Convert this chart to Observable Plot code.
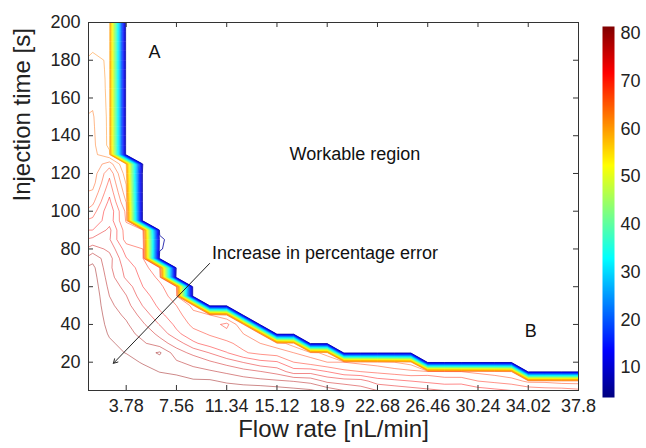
<!DOCTYPE html>
<html>
<head>
<meta charset="utf-8">
<script src="https://cdn.jsdelivr.net/npm/d3@7"></script>
<script src="https://cdn.jsdelivr.net/npm/@observablehq/plot@0.6"></script>
<style>
  html, body { margin: 0; padding: 0; background: #fff; }
  #chart { position: relative; width: 646px; height: 448px; overflow: hidden; background: #fff; }
  #chart svg { position: absolute; top: 0; }
</style>
</head>
<body>
<div id="chart"></div>
<script>
// ---- data ----
const flowRates = [1.26, 2.52, 3.78, 5.04, 6.3, 7.56, 8.82, 10.08, 11.34, 12.6, 13.86, 15.12, 16.38, 17.64, 18.9,
  20.16, 21.42, 22.68, 23.94, 25.2, 26.46, 27.72, 28.98, 30.24, 31.5, 32.76, 34.02, 35.28, 36.54, 37.8];
const injectionTimes = [200, 195, 190, 185, 180, 175, 170, 165, 160, 155, 150, 145, 140, 135, 130, 125, 120, 115, 110, 105,
  100, 95, 90, 85, 80, 75, 70, 65, 60, 55, 50, 45, 40, 35, 30, 25, 20, 15, 10, 5];
// percentage error, one row per injection time (top row = 200 s), one column per flow rate
const percentError = [
  [61.6, 61.5, 4,4,4,4,4, 4,4,4,4,4, 4,4,4,4,4, 4,4,4,4,4, 4,4,4,4,4, 4,4,4],
  [61.6, 61.5, 4,4,4,4,4, 4,4,4,4,4, 4,4,4,4,4, 4,4,4,4,4, 4,4,4,4,4, 4,4,4],
  [61.7, 61.5, 4,4,4,4,4, 4,4,4,4,4, 4,4,4,4,4, 4,4,4,4,4, 4,4,4,4,4, 4,4,4],
  [61.8, 61.5, 4,4,4,4,4, 4,4,4,4,4, 4,4,4,4,4, 4,4,4,4,4, 4,4,4,4,4, 4,4,4],
  [63.0, 61.5, 4,4,4,4,4, 4,4,4,4,4, 4,4,4,4,4, 4,4,4,4,4, 4,4,4,4,4, 4,4,4],
  [63.2, 61.5, 4,4,4,4,4, 4,4,4,4,4, 4,4,4,4,4, 4,4,4,4,4, 4,4,4,4,4, 4,4,4],
  [63.4, 61.5, 4,4,4,4,4, 4,4,4,4,4, 4,4,4,4,4, 4,4,4,4,4, 4,4,4,4,4, 4,4,4],
  [63.5, 61.5, 4,4,4,4,4, 4,4,4,4,4, 4,4,4,4,4, 4,4,4,4,4, 4,4,4,4,4, 4,4,4],
  [63.7, 61.5, 4,4,4,4,4, 4,4,4,4,4, 4,4,4,4,4, 4,4,4,4,4, 4,4,4,4,4, 4,4,4],
  [63.9, 61.5, 4,4,4,4,4, 4,4,4,4,4, 4,4,4,4,4, 4,4,4,4,4, 4,4,4,4,4, 4,4,4],
  [64.2, 61.5, 4,4,4,4,4, 4,4,4,4,4, 4,4,4,4,4, 4,4,4,4,4, 4,4,4,4,4, 4,4,4],
  [64.3, 61.5, 4,4,4,4,4, 4,4,4,4,4, 4,4,4,4,4, 4,4,4,4,4, 4,4,4,4,4, 4,4,4],
  [64.4, 61.5, 4,4,4,4,4, 4,4,4,4,4, 4,4,4,4,4, 4,4,4,4,4, 4,4,4,4,4, 4,4,4],
  [64.5, 61.5, 4, 4, 4,4,4,4,4, 4,4,4,4,4, 4,4,4,4,4, 4,4,4,4,4, 4,4,4,4,4, 4],
  [64.6, 62.5, 4, 5.2, 4,4,4,4,4, 4,4,4,4,4, 4,4,4,4,4, 4,4,4,4,4, 4,4,4,4,4, 4],
  [64.7, 67, 62, 5.5, 4,4,4,4,4, 4,4,4,4,4, 4,4,4,4,4, 4,4,4,4,4, 4,4,4,4,4, 4],
  [64.8, 69.5, 62.8, 4,4,4,4,4, 4,4,4,4,4, 4,4,4,4,4, 4,4,4,4,4, 4,4,4,4,4, 4,4],
  [65.2, 70.5, 63.8, 4,4,4,4,4, 4,4,4,4,4, 4,4,4,4,4, 4,4,4,4,4, 4,4,4,4,4, 4,4],
  [66.3, 71.5, 64.8, 4,4,4,4,4, 4,4,4,4,4, 4,4,4,4,4, 4,4,4,4,4, 4,4,4,4,4, 4,4],
  [67.5, 72.5, 65.9, 4,4,4,4,4, 4,4,4,4,4, 4,4,4,4,4, 4,4,4,4,4, 4,4,4,4,4, 4,4],
  [69.0, 73.5, 67.5, 4,4,4,4,4, 4,4,4,4,4, 4,4,4,4,4, 4,4,4,4,4, 4,4,4,4,4, 4,4],
  [70.5, 73.2, 67.8, 4,4,4,4,4, 4,4,4,4,4, 4,4,4,4,4, 4,4,4,4,4, 4,4,4,4,4, 4,4],
  [72.0, 74.5, 68.9, 68, 5, 4,4,4,4,4, 4,4,4,4,4, 4,4,4,4,4, 4,4,4,4,4, 4,4,4,4,4],
  [74.5, 74.2, 69.2, 69, 6.8, 4,4,4,4,4, 4,4,4,4,4, 4,4,4,4,4, 4,4,4,4,4, 4,4,4,4,4],
  [77.0, 75.5, 71.0, 70, 6.4, 4,4,4,4,4, 4,4,4,4,4, 4,4,4,4,4, 4,4,4,4,4, 4,4,4,4,4],
  [79.2, 76.8, 72.1, 70.5, 4.5, 4,4,4,4,4, 4,4,4,4,4, 4,4,4,4,4, 4,4,4,4,4, 4,4,4,4,4],
  [80.6, 76.5, 73.2, 71, 68, 5, 4,4,4,4,4, 4,4,4,4,4, 4,4,4,4,4, 4,4,4,4,4, 4,4,4,4],
  [81.0, 77, 73.6, 71.5, 69.5, 4,4,4,4,4, 4,4,4,4,4, 4,4,4,4,4, 4,4,4,4,4, 4,4,4,4,4],
  [81.3, 77.5, 75.2, 72, 70.5, 68, 4,4,4,4,4, 4,4,4,4,4, 4,4,4,4,4, 4,4,4,4,4, 4,4,4,4],
  [81.5, 78, 76.1, 72.8, 71, 69, 4,4,4,4,4, 4,4,4,4,4, 4,4,4,4,4, 4,4,4,4,4, 4,4,4,4],
  [81.5, 78.5, 76.8, 73.9, 71.5, 70, 67.5, 4,4,4,4,4, 4,4,4,4,4, 4,4,4,4,4, 4,4,4,4,4, 4,4,4],
  [81.5, 79, 77.6, 75.2, 72.5, 70.8, 68.5, 68, 66, 4,4,4,4,4, 4,4,4,4,4, 4,4,4,4,4, 4,4,4,4,4, 4],
  [81.5, 79.4, 78.3, 76.3, 73.9, 71.5, 69.5, 69, 70.6, 66, 4,4,4,4,4, 4,4,4,4,4, 4,4,4,4,4, 4,4,4,4,4],
  [81.5, 79.8, 78.8, 77.3, 75.5, 72.5, 70.7, 69.8, 69.2, 68, 66, 4,4,4,4,4, 4,4,4,4,4, 4,4,4,4,4, 4,4,4,4],
  [81.5, 80.3, 79.4, 78.3, 76.8, 75.2, 72.4, 71, 70.3, 69.5, 68, 67, 65, 4,4,4,4,4, 4,4,4,4,4, 4,4,4,4,4, 4,4],
  [81.5, 80.8, 79.9, 79, 80.3, 76.8, 75.5, 73.9, 72.1, 70.2, 69.5, 69, 68, 67, 65, 4,4,4,4,4, 4,4,4,4,4, 4,4,4,4,4],
  [81.5, 81.2, 81.1, 79.7, 79, 78.3, 77.3, 76.3, 75.2, 73.9, 72.6, 72.2, 70, 69, 68, 68, 67.5, 67, 66, 65, 4,4,4,4,4, 4,4,4,4,4],
  [81.5, 81.5, 81.5, 81.1, 79.9, 79.4, 78.8, 78.3, 77.6, 76.8, 76.1, 75.2, 73, 73.2, 72, 70.5, 70, 69.5, 69, 68.5, 69, 68.5, 68, 67.5, 67, 66, 4, 4, 4, 4],
  [81.5, 81.5, 81.5, 81.5, 81.5, 81.1, 80.3, 80.3, 79.6, 79, 78.6, 78.3, 77.9, 77.3, 75.5, 75, 74.8, 73, 72.5, 72, 71.5, 71, 71.3, 70, 69.5, 69, 67.5, 67.5, 67, 67],
  [81.5, 81.5, 81.5, 81.5, 81.5, 81.5, 81.5, 81.5, 81.5, 81.5, 81.5, 81.1, 80.7, 80.3, 79.2, 78, 77, 76, 75.5, 75, 74.5, 74, 73.5, 73, 72.5, 72, 71.5, 71, 71, 70.5]
];
const bandLevels = [6, 8, 10, 12, 14, 16, 18, 20, 22, 24, 26, 28, 30, 32, 34, 36, 38, 40, 42, 44, 46, 48, 50,
  52, 54, 56, 58, 60];
const highLevels = [62, 64, 66, 68, 70, 72, 74, 76, 78, 80];
const errorRange = [3.7, 81.5];
const xTicks = [3.78, 7.56, 11.34, 15.12, 18.9, 22.68, 26.46, 30.24, 34.02, 37.8];
const yTicks = [20, 40, 60, 80, 100, 120, 140, 160, 180, 200];
const colorTicks = [10, 20, 30, 40, 50, 60, 70, 80];
const xDomain = [0.945, 37.8];
const yDomain = [5, 200];
const cornerLabels = [{text: "A", x: 5.9, y: 184}, {text: "B", x: 34.2, y: 36.5}];
const noteLabels = [{text: "Workable region", x: 16.07, y: 130}, {text: "Increase in percentage error", x: 10.23, y: 77.8}];
const arrowNote = [{x1: 10.05, y1: 72.3, x2: 2.82, y2: 19.4}];

// ---- checks ----
if (percentError.length !== injectionTimes.length) throw new Error("rows: " + percentError.length);
percentError.forEach((r, i) => { if (r.length !== flowRates.length) throw new Error("row " + injectionTimes[i] + " has " + r.length); });

// ---- MATLAB jet colormap ----
function jet(t) {
  const c = (v) => Math.max(0, Math.min(1, v));
  const r = c(1.5 - Math.abs(4 * t - 3)), g = c(1.5 - Math.abs(4 * t - 2)), b = c(1.5 - Math.abs(4 * t - 1));
  return `rgb(${Math.round(r * 255)},${Math.round(g * 255)},${Math.round(b * 255)})`;
}
const colorScale = {type: "linear", domain: errorRange, interpolate: jet};

// grid: rows bottom-up so that the first row sits at y1
const nx = flowRates.length, ny = injectionTimes.length;
const dx = flowRates[1] - flowRates[0];
const dy = injectionTimes[0] - injectionTimes[1];
const values = percentError.slice().reverse().flat();
const grid = {width: nx, height: ny,
  x1: flowRates[0] - dx / 2, x2: flowRates[nx - 1] + dx / 2,
  y1: injectionTimes[ny - 1] - dy / 2, y2: injectionTimes[0] + dy / 2};

const font = '"Liberation Sans", Arial, Helvetica, sans-serif';
const W = 646, H = 448, mL = 88, mR = 68, mT = 22, mB = 58;
const fw = W - mL - mR, fh = H - mT - mB;

const main = Plot.plot({
  width: W, height: H,
  marginLeft: mL, marginRight: mR, marginTop: mT, marginBottom: mB,
  style: {fontFamily: font, fontSize: "18px", color: "#222", background: "transparent"},
  x: {domain: xDomain, axis: null},
  y: {domain: yDomain, axis: null},
  color: colorScale,
  marks: [
    Plot.contour(values, {...grid, value: Plot.identity, stroke: "value", fill: "none",
      thresholds: highLevels, strokeWidth: 0.75, strokeOpacity: 0.62, clip: true}),
    Plot.contour(values, {...grid, value: Plot.identity, stroke: "value", fill: "none",
      thresholds: bandLevels, strokeWidth: 0.8, clip: true}),
    Plot.frame({stroke: "#333", strokeWidth: 1}),
    Plot.tickX(xTicks, {x: (d) => d, insetTop: fh - 5, stroke: "#333"}),
    Plot.tickX(xTicks, {x: (d) => d, insetBottom: fh - 5, stroke: "#333"}),
    Plot.tickY(yTicks, {y: (d) => d, insetRight: fw - 5, stroke: "#333"}),
    Plot.tickY(yTicks, {y: (d) => d, insetLeft: fw - 5, stroke: "#333"}),
    Plot.axisX({ticks: xTicks, tickSize: 0, tickPadding: 9, tickFormat: (d) => String(d), label: null, color: "#222"}),
    Plot.axisY({ticks: yTicks, tickSize: 0, tickPadding: 8, tickFormat: (d) => String(d), label: null, color: "#222"}),
    Plot.text(["Flow rate [nL/min]"], {frameAnchor: "bottom", dy: 46, fontSize: 24, fill: "#222"}),
    Plot.text(["Injection time [s]"], {frameAnchor: "left", dx: -66, dy: -5, rotate: -90, fontSize: 24, fill: "#222"}),
    Plot.text(cornerLabels, {x: "x", y: "y", text: "text", fill: "#111", fontSize: 18}),
    Plot.text(noteLabels, {x: "x", y: "y", text: "text", textAnchor: "start", fill: "#111", fontSize: 18}),
    Plot.arrow(arrowNote, {x1: "x1", y1: "y1", x2: "x2", y2: "y2", stroke: "#222", strokeWidth: 1, headLength: 7})
  ]
});
main.style.left = "0px";
document.getElementById("chart").appendChild(main);

// ---- colour bar ----
const cbLeft = 588, cbW = 58;
const cbar = Plot.plot({
  width: cbW, height: H,
  marginLeft: 14, marginRight: 32, marginTop: 26, marginBottom: 51,
  style: {fontFamily: font, fontSize: "18px", color: "#222", background: "transparent"},
  x: {domain: [0, 1], axis: null},
  y: {domain: errorRange, axis: null},
  color: colorScale,
  marks: [
    Plot.raster({fill: (x, y) => y, x1: 0, x2: 1, y1: errorRange[0], y2: errorRange[1], width: 1, height: 300}),
    Plot.axisY({anchor: "right", ticks: colorTicks, tickSize: 0, tickPadding: 6, tickFormat: (d) => String(d), label: null, color: "#222"})
  ]
});
cbar.style.left = cbLeft + "px";
document.getElementById("chart").appendChild(cbar);
</script>
</body>
</html>
